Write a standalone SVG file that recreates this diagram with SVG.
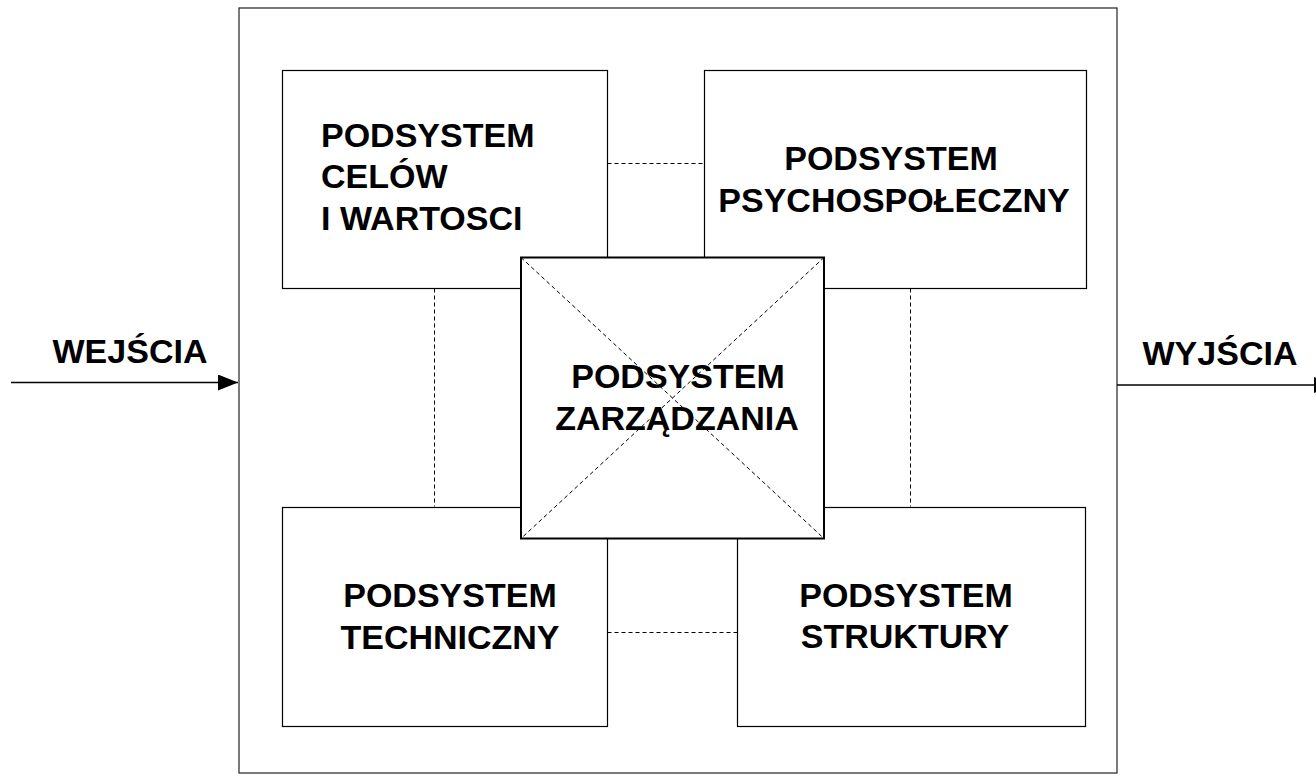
<svg xmlns="http://www.w3.org/2000/svg" width="1316" height="784" viewBox="0 0 1316 784">
<defs>
<style>
.box{fill:#fff;stroke:#000;stroke-width:1.2}
.outer{fill:#fff;stroke:#333;stroke-width:1.3}
.center{fill:#fff;stroke:#000;stroke-width:2}
.dash{fill:none;stroke:#000;stroke-width:1;stroke-dasharray:4 3}
.line{fill:none;stroke:#000;stroke-width:1.3}
text{font-family:"Liberation Sans",Arial,sans-serif;font-weight:bold;font-size:34px;fill:#000}
.mid{text-anchor:middle}
</style>
<marker id="arr" viewBox="0 0 20 16" refX="20" refY="8" markerWidth="20" markerHeight="16" markerUnits="userSpaceOnUse" orient="auto">
<path d="M0,0 L20,8 L0,16 Z" fill="#000"/>
</marker>
</defs>
<g id="system">
<rect class="outer" x="239" y="8" width="878" height="765"/>
</g>
<g id="connectors">
<line class="line" x1="11" y1="382.5" x2="238" y2="382.5" marker-end="url(#arr)"/>
<line class="line" x1="1117" y1="385" x2="1334" y2="385" marker-end="url(#arr)"/>
<line class="dash" x1="607.5" y1="163.5" x2="704.5" y2="163.5"/>
<line class="dash" x1="607.5" y1="632.5" x2="737.5" y2="632.5"/>
<line class="dash" x1="434.5" y1="288.5" x2="434.5" y2="506.5"/>
<line class="dash" x1="910.5" y1="288.5" x2="910.5" y2="506.5"/>
</g>
<g id="label-wejscia"><text class="mid" x="130" y="363">WEJŚCIA</text></g>
<g id="label-wyjscia"><text class="mid" x="1220" y="365">WYJŚCIA</text></g>
<g id="node-celow">
<rect class="box" x="282.5" y="70.5" width="325" height="218"/>
<text x="321" y="147">PODSYSTEM</text>
<text x="321" y="188">CELÓW</text>
<text x="321" y="230">I WARTOSCI</text>
</g>
<g id="node-psycho">
<rect class="box" x="704.5" y="70.5" width="382" height="218"/>
<text class="mid" x="891" y="170">PODSYSTEM</text>
<text class="mid" x="894" y="212">PSYCHOSPOŁECZNY</text>
</g>
<g id="node-techniczny">
<rect class="box" x="282.5" y="507.5" width="325" height="219"/>
<text class="mid" x="450" y="607">PODSYSTEM</text>
<text class="mid" x="450" y="649">TECHNICZNY</text>
</g>
<g id="node-struktury">
<rect class="box" x="737.5" y="507.5" width="348" height="219"/>
<text class="mid" x="906" y="607">PODSYSTEM</text>
<text class="mid" x="905" y="648">STRUKTURY</text>
</g>
<g id="node-zarzadzania">
<rect class="center" x="521" y="257.5" width="303" height="281"/>
<line class="dash" x1="521" y1="257.5" x2="824" y2="538.5"/>
<line class="dash" x1="824" y1="257.5" x2="521" y2="538.5"/>
<text class="mid" x="678" y="388">PODSYSTEM</text>
<text class="mid" x="677" y="430">ZARZĄDZANIA</text>
</g>
</svg>
